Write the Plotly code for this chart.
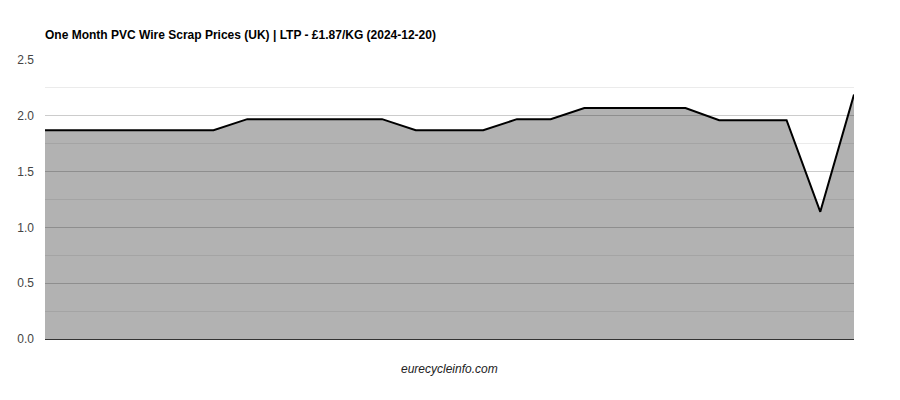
import plotly.graph_objects as go

days = list(range(25))
prices = [1.87, 1.87, 1.87, 1.87, 1.87, 1.87,
          1.97, 1.97, 1.97, 1.97, 1.97,
          1.87, 1.87, 1.87,
          1.97, 1.97,
          2.07, 2.07, 2.07, 2.07,
          1.96, 1.96, 1.96,
          1.14, 2.19]
title = "One Month PVC Wire Scrap Prices (UK) | LTP - £1.87/KG (2024-12-20)"
source = "eurecycleinfo.com"

W, H = 892, 392  # page body has an 8px margin

fig = go.Figure()
fig.add_trace(go.Scatter(
    x=days, y=prices, mode="lines", fill="tozeroy",
    fillcolor="rgba(0,0,0,0.3)",
    line=dict(color="#000000", width=2),
    hoverinfo="x+y", showlegend=False,
))

fig.update_layout(
    width=W, height=H,
    margin=dict(l=37, r=46, t=52, b=61),
    paper_bgcolor="#ffffff", plot_bgcolor="#ffffff",
    font=dict(family="Liberation Sans, Arial, sans-serif", size=12, color="#444444"),
    title=dict(text="<b>" + title + "</b>", x=37/W, xref="container", xanchor="left",
               y=1 - 27/H, yref="container", yanchor="middle",
               font=dict(size=12, color="#000000")),
    xaxis=dict(range=[0, 24], showgrid=False, showticklabels=False, zeroline=False,
               showline=False, ticks="", automargin=False),
    yaxis=dict(range=[0, 2.5], dtick=0.5, tickformat=".1f", showgrid=True,
               gridcolor="#cccccc", gridwidth=1,
               minor=dict(dtick=0.25, showgrid=True, gridcolor="#ebebeb"),
               zeroline=True, zerolinecolor="#333333", zerolinewidth=1,
               showline=False, ticks="", ticklabelstandoff=10, automargin=False,
               tickfont=dict(size=12, color="#444444")),
    annotations=[dict(text="<i>" + source + "</i>", xref="paper", yref="paper",
                      x=0.5, y=-30/279, xanchor="center", yanchor="middle",
                      showarrow=False, font=dict(size=12, color="#222222"))],
)

fig.write_html("out.html")
